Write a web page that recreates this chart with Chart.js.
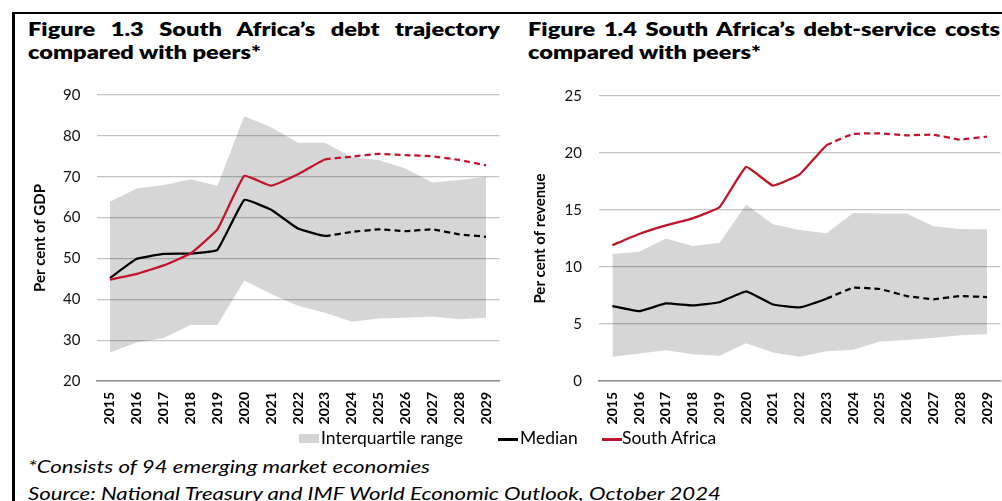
<!DOCTYPE html>
<html>
<head>
<meta charset="utf-8">
<script src="https://cdn.jsdelivr.net/npm/chart.js@4.4.1/dist/chart.umd.min.js"></script>
<style>
  html, body { margin: 0; padding: 0; width: 1002px; height: 501px; overflow: hidden; background: #fff; }
  body { position: relative; font-family: Lato, "Open Sans", sans-serif; color: #000; }
  #frame { position: absolute; left: 12px; top: 12px; width: 1100px; height: 600px;
           border-top: 2px solid #000; border-left: 3px solid #000; }
  .title { position: absolute; top: 18.2px; font-weight: 800; font-size: 18px; line-height: 23px;
           transform-origin: 0 0; }
  .title .l1 { text-align: justify; text-align-last: justify; }
  .title .l2 { white-space: nowrap; }
  canvas { position: absolute; }
  .lt { position: absolute; top: 427px; font-size: 17.5px; line-height: 21px; white-space: nowrap; }
  .sw { position: absolute; }
  #notes { position: absolute; left: 28px; top: 454.2px; font-style: italic; font-size: 17.5px;
           line-height: 26.7px; white-space: nowrap; transform-origin: 0 0; }
</style>
</head>
<body>
<div id="frame"></div>

<div class="title" id="title1" style="left:28px">
  <div class="l1">Figure 1.3 South Africa’s debt trajectory</div>
  <div><span class="l2">compared with peers*</span></div>
</div>
<div class="title" id="title2" style="left:528px">
  <div class="l1">Figure 1.4 South Africa’s debt-service costs</div>
  <div><span class="l2">compared with peers*</span></div>
</div>

<canvas id="debtChart" width="500" height="360" style="left:14px;top:70px"></canvas>
<canvas id="serviceChart" width="500" height="360" style="left:515px;top:70px"></canvas>

<div id="legend">
  <span class="sw" style="left:299px;top:434px;width:20px;height:9px;background:#d4d4d4"></span>
  <span class="lt" id="lg0" style="left:321px"></span>
  <span class="sw" style="left:498px;top:438px;width:20px;height:2.5px;background:#000"></span>
  <span class="lt" id="lg1" style="left:520px"></span>
  <span class="sw" style="left:602px;top:438px;width:20px;height:2.5px;background:#c0142a"></span>
  <span class="lt" id="lg2" style="left:622px"></span>
</div>

<div id="notes">
  <div><span id="note1">*Consists of 94 emerging market economies</span></div>
  <div>Source: National Treasury and IMF World Economic Outlook, October 2024</div>
</div>

<script>
// Years on the category axis
const years = ['2015','2016','2017','2018','2019','2020','2021','2022','2023',
               '2024','2025','2026','2027','2028','2029'];
const seriesNames = ['Interquartile range', 'Median', 'South Africa'];

// Gross debt, per cent of GDP
const debtIqrLow  = [27.0, 29.4, 30.5, 33.7, 33.7, 44.6, 41.3, 38.4, 36.7, 34.5, 35.3, 35.5, 35.8, 35.1, 35.5];
const debtIqrHigh = [63.9, 67.1, 68.0, 69.4, 67.8, 84.8, 82.1, 78.3, 78.3, 74.8, 74.1, 72.0, 68.6, 69.2, 70.0];
const debtMedian  = [45.2, 49.9, 51.1, 51.2, 52.1, 64.3, 61.9, 57.3, 55.5, 56.5, 57.1, 56.7, 57.1, 55.9, 55.3];
const debtSA      = [44.8, 46.2, 48.3, 51.2, 57.1, 70.2, 67.8, 70.6, 74.2, 74.9, 75.6, 75.3, 75.0, 74.1, 72.8];

// Debt-service costs, per cent of revenue
const costIqrLow  = [2.12, 2.41, 2.69, 2.35, 2.21, 3.31, 2.49, 2.12, 2.61, 2.75, 3.46, 3.60, 3.77, 4.02, 4.11];
const costIqrHigh = [11.13, 11.33, 12.49, 11.84, 12.10, 15.49, 13.74, 13.25, 12.97, 14.73, 14.70, 14.70, 13.57, 13.34, 13.28];
const costMedian  = [6.57, 6.12, 6.80, 6.63, 6.91, 7.87, 6.71, 6.46, 7.22, 8.18, 8.07, 7.45, 7.17, 7.45, 7.36];
const costSA      = [11.92, 12.90, 13.65, 14.27, 15.24, 18.78, 17.14, 18.12, 20.67, 21.67, 21.72, 21.55, 21.60, 21.18, 21.44];

// First index of the projection period (drawn dashed)
const projectionStart = 8;

const RED = '#c0142a';
const BAND = 'rgba(0,0,0,0.16)';

function projectionDash(ctx) {
  return ctx.p0DataIndex >= projectionStart ? [6, 4] : undefined;
}

function buildChart(id, low, high, median, sa, yMin, yMax, yStep, yTitle, opts) {
  return new Chart(document.getElementById(id), {
    type: 'line',
    data: {
      labels: years,
      datasets: [
        { label: 'lower quartile', data: low, borderColor: 'transparent', borderWidth: 0,
          pointRadius: 0, fill: false, tension: 0, order: 3 },
        { label: seriesNames[0], data: high, borderColor: 'transparent', borderWidth: 0,
          pointRadius: 0, backgroundColor: BAND, fill: 0, tension: 0, order: 2 },
        { label: seriesNames[1], data: median, borderColor: '#000', borderWidth: 2.25,
          pointRadius: 0, fill: false, tension: 0.1, order: 1,
          segment: { borderDash: projectionDash } },
        { label: seriesNames[2], data: sa, borderColor: RED, borderWidth: 2.25,
          pointRadius: 0, fill: false, tension: 0.1, order: 0,
          segment: { borderDash: projectionDash } }
      ]
    },
    options: {
      responsive: false,
      animation: false,
      events: [],
      layout: { padding: { left: 0, right: opts.padRight, top: 16, bottom: 0 } },
      plugins: { legend: { display: false }, tooltip: { enabled: false } },
      scales: {
        x: {
          offset: true,
          grid: { display: false, drawTicks: false },
          border: { display: true, color: '#8c8c8c', width: 1.5 },
          ticks: { autoSkip: false, minRotation: 90, maxRotation: 90, padding: 11,
                   color: '#000', font: { family: 'Lato', weight: 'bold', size: 14 } },
          afterFit: s => { s.height = 49; }
        },
        y: {
          min: yMin, max: yMax,
          grid: { color: '#c4c4c4', lineWidth: 1.25, drawTicks: false },
          border: { display: false },
          ticks: { stepSize: yStep, padding: opts.tickPad, color: '#111',
                   font: { family: 'Lato', size: 15 } },
          title: { display: true, text: yTitle, color: '#000',
                   font: { family: 'Lato', weight: 'bold', size: 15 },
                   padding: { top: opts.titlePad, bottom: 0 } },
          afterFit: s => { s.width = opts.axisWidth; }
        }
      }
    }
  });
}

function stretchBlock(block, measured, target, boxWidth) {
  const w = measured.getBoundingClientRect().width;
  const s = target / w;
  block.style.transform = 'scaleX(' + s + ')';
  if (boxWidth) block.style.width = (boxWidth / s) + 'px';
}

function render() {
  document.getElementById('lg0').textContent = seriesNames[0];
  document.getElementById('lg1').textContent = seriesNames[1];
  document.getElementById('lg2').textContent = seriesNames[2];

  for (const id of ['title1', 'title2']) {
    const t = document.getElementById(id);
    stretchBlock(t, t.querySelector('.l2'), 233, 472);
  }
  stretchBlock(document.getElementById('notes'), document.getElementById('note1'), 402);

  buildChart('debtChart', debtIqrLow, debtIqrHigh, debtMedian, debtSA, 20, 90, 10,
             'Per cent of GDP', { padRight: 4.5, axisWidth: 82.5, tickPad: 16, titlePad: 17 });
  buildChart('serviceChart', costIqrLow, costIqrHigh, costMedian, costSA, 0, 25, 5,
             'Per cent of revenue', { padRight: 5.6, axisWidth: 84, tickPad: 17, titlePad: 16 });
}

if (document.fonts && document.fonts.ready) {
  document.fonts.ready.then(render);
} else {
  window.addEventListener('load', render);
}
</script>
</body>
</html>
